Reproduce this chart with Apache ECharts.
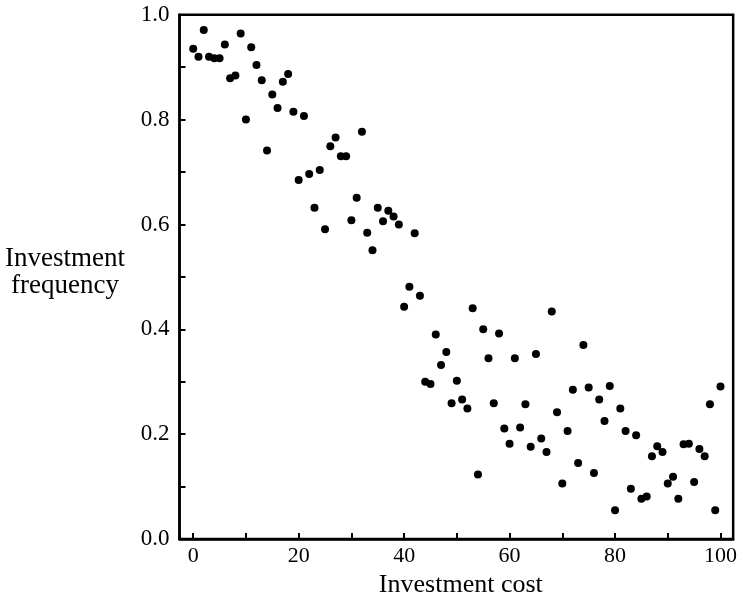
<!DOCTYPE html>
<html>
<head>
<meta charset="utf-8">
<script src="https://cdn.jsdelivr.net/npm/echarts@6/dist/echarts.min.js"></script>
<style>html,body{margin:0;padding:0;background:#fff;}#c{width:740px;height:603px;}</style>
</head>
<body>
<div id="c"></div>
<script>
const costs = [0,1,2,3,4,5,6,7,8,9,10,11,12,13,14,15,16,17,18,19,20,21,22,23,24,25,26,27,28,29,30,31,32,33,34,35,36,37,38,39,40,41,42,43,44,45,46,47,48,49,50,51,52,53,54,55,56,57,58,59,60,61,62,63,64,65,66,67,68,69,70,71,72,73,74,75,76,77,78,79,80,81,82,83,84,85,86,87,88,89,90,91,92,93,94,95,96,97,98,99,100];
const frequencies = [0.935,0.920,0.971,0.920,0.917,0.917,0.943,0.879,0.884,0.964,
  0.800,0.938,0.904,0.875,0.741,0.848,0.822,0.872,0.887,0.815,
  0.685,0.807,0.696,0.632,0.704,0.591,0.749,0.766,0.730,0.730,
  0.608,0.651,0.777,0.584,0.551,0.632,0.606,0.626,0.615,0.600,
  0.443,0.481,0.583,0.464,0.300,0.296,0.390,0.332,0.357,0.259,
  0.302,0.266,0.249,0.440,0.123,0.400,0.345,0.259,0.392,0.211,
  0.182,0.345,0.213,0.257,0.176,0.353,0.192,0.166,0.434,0.242,
  0.106,0.206,0.285,0.145,0.370,0.289,0.126,0.266,0.225,0.292,
  0.055,0.249,0.206,0.096,0.198,0.077,0.081,0.158,0.177,0.166,
  0.106,0.119,0.077,0.181,0.182,0.109,0.172,0.158,0.257,0.055,
  0.291];
const xTickValues = [0,10,20,30,40,50,60,70,80,90,100];
const xLabelValues = [0,20,40,60,80,100];
const yTickValues = [0,0.1,0.2,0.3,0.4,0.5,0.6,0.7,0.8,0.9,1.0];
const yLabelValues = [0,0.2,0.4,0.6,0.8,1.0];
const xTitle = 'Investment cost';
const yTitle = 'Investment\nfrequency';

const font = 'Liberation Serif';
const chart = echarts.init(document.getElementById('c'));
chart.setOption({
  animation: false,
  backgroundColor: '#fff',
  grid: {left: 179.5, right: 3, top: 14.7, bottom: 57.5, show: true, borderColor: '#000', borderWidth: 2.5, backgroundColor: 'transparent'},
  xAxis: {
    type: 'value', min: -2.6, max: 102.4,
    name: xTitle, nameLocation: 'middle', nameGap: 31,
    nameTextStyle: {fontFamily: font, fontSize: 26, color: '#000', padding: [0,0,0,9]},
    axisLine: {show: true, onZero: false, lineStyle: {color: '#000', width: 2.5}},
    axisTick: {show: true, inside: true, length: 6, lineStyle: {color: '#000', width: 2}, customValues: xTickValues},
    axisLabel: {fontFamily: font, fontSize: 22, color: '#000', margin: 6, customValues: xLabelValues},
    splitLine: {show: false}
  },
  yAxis: {
    type: 'value', min: 0, max: 1,
    axisLine: {show: true, onZero: false, lineStyle: {color: '#000', width: 2.5}},
    axisTick: {show: true, inside: true, length: 6, lineStyle: {color: '#000', width: 2}, customValues: yTickValues},
    axisLabel: {fontFamily: font, fontSize: 23, color: '#000', margin: 10, customValues: yLabelValues, formatter: v => v.toFixed(1)},
    splitLine: {show: false}
  },
  graphic: [{
    type: 'text', x: 65, y: 272,
    style: {text: yTitle, font: '27px "Liberation Serif"', fill: '#000', align: 'center', verticalAlign: 'middle', lineHeight: 27}
  }],
  series: [{
    type: 'scatter',
    data: costs.map((c, i) => [c, frequencies[i]]),
    symbol: 'circle', symbolSize: 8,
    itemStyle: {color: '#000', opacity: 1}
  }]
});
</script>
</body>
</html>
